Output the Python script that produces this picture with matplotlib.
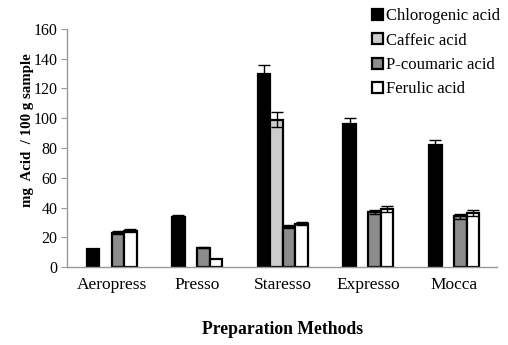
import matplotlib
matplotlib.use("Agg")
import matplotlib.pyplot as plt
import numpy as np

plt.rcParams['font.family'] = ['Liberation Serif', 'DejaVu Serif']

methods = ["Aeropress", "Presso", "Staresso", "Expresso", "Mocca"]
series = ["Chlorogenic acid", "Caffeic acid", "P-coumaric acid", "Ferulic acid"]
chlorogenic = [12, 33.5, 130, 96, 82]
chlorogenic_err = [0, 1.5, 6, 4.5, 3.5]
caffeic = [0, 0, 99, 0, 0]
caffeic_err = [0, 0, 5, 0, 0]
pcoumaric = [23, 13, 27, 37, 34]
pcoumaric_err = [1.0, 0.5, 1.0, 1.5, 1.5]
ferulic = [24.5, 5.5, 29, 39, 36]
ferulic_err = [1.0, 0, 1.0, 2.0, 2.0]

values = [chlorogenic, caffeic, pcoumaric, ferulic]
errors = [chlorogenic_err, caffeic_err, pcoumaric_err, ferulic_err]
colors = ["#000000", "#cccccc", "#8c8c8c", "#ffffff"]

fig = plt.figure(figsize=(5.08, 3.45), dpi=100)
ax = fig.add_axes([0.132, 0.226, 0.846, 0.69])

x = np.arange(len(methods))
w = 0.146
for i, (v, e, c, name) in enumerate(zip(values, errors, colors, series)):
    pos = x + (i - 1.5) * w
    v = np.array(v, dtype=float)
    e = np.array(e, dtype=float)
    mask = v > 0
    ax.bar(pos[mask], v[mask], width=w, color=c, edgecolor="black", linewidth=1.6, label=name, zorder=2)
    emask = mask & (e > 0)
    ax.errorbar(pos[emask], v[emask], yerr=e[emask], fmt="none", ecolor="black",
                elinewidth=1.0, capsize=4.2, capthick=1.0, zorder=3)

ax.set_xlim(-0.52, 4.5)
ax.set_ylim(0, 160)
ax.set_yticks(np.arange(0, 161, 20))
ax.set_xticks(x)
ax.set_xticklabels(methods, fontsize=12.5)
ax.tick_params(axis="x", length=0, pad=7)
ax.tick_params(axis="y", direction="out", length=4, color="#999999", labelsize=11.5, pad=3)
for s in ["top", "right"]:
    ax.spines[s].set_visible(False)
for s in ["left", "bottom"]:
    ax.spines[s].set_color("#999999")
    ax.spines[s].set_linewidth(1.0)

fig.text(27 / 508, 1 - 130 / 345, "mg  Acid  / 100 g sample", rotation=90, ha="center", va="center",
         fontsize=10.7, fontweight="bold")
fig.text(283 / 508, 1 - 330 / 345, "Preparation Methods", ha="center", va="center",
         fontsize=12.7, fontweight="bold")

handles, labels = ax.get_legend_handles_labels()
fig.legend(handles, labels, loc="upper left", bbox_to_anchor=(364 / 508, 1.0), frameon=False,
           fontsize=12, handlelength=0.65, handleheight=0.65, handletextpad=0.15,
           labelspacing=0.5, borderaxespad=0.1)

fig.savefig("out.png", dpi=100)
